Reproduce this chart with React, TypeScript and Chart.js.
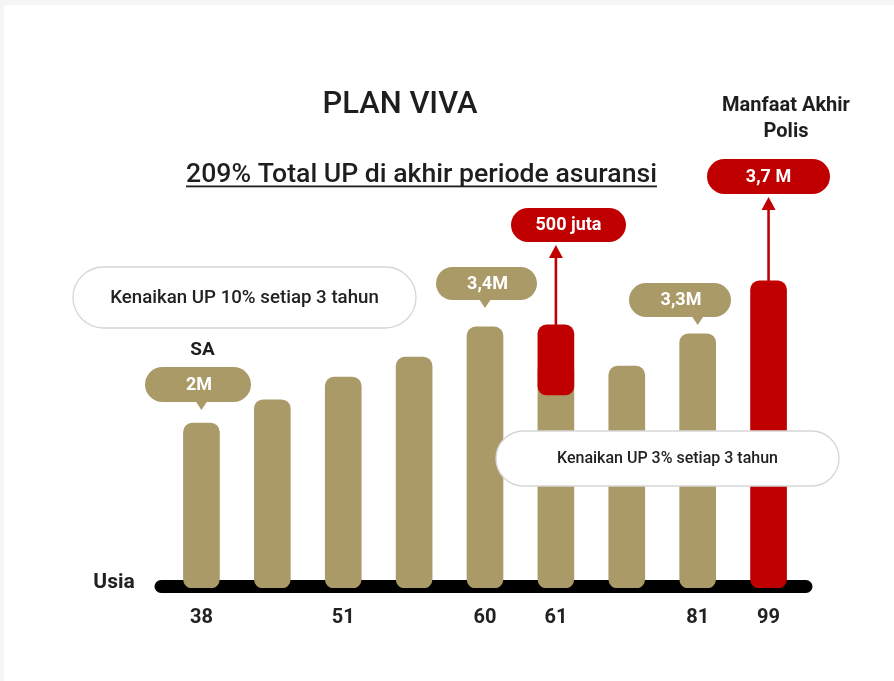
import React, { useEffect, useRef } from 'react';
import { Chart, registerables } from 'chart.js';

Chart.register(...registerables);

// ---- data (values in millions) ----
const AGE_LABELS = ['38', '', '51', '', '60', '61', '', '81', '99'];
const SUM_ASSURED = [2.0, 2.34, 2.67, 2.96, 3.4, 2.9, 2.83, 3.3, null];
const EXTRA_61 = [null, null, null, null, null, [2.41, 3.43], null, null, null];
const END_BENEFIT = [null, null, null, null, null, null, null, null, 4.07];
const AXIS_MIN = -0.4;
const AXIS_MAX = 5;

const GOLD_CALLOUTS = [
  { index: 0, text: '2M' },
  { index: 4, text: '3,4M' },
  { index: 7, text: '3,3M' },
];
const RED_CALLOUTS = [
  { index: 5, text: '500 juta' },
  { index: 8, text: '3,7 M' },
];

const TITLE = 'PLAN VIVA';
const SUBTITLE = '209% Total UP di akhir periode asuransi';
const NOTE_10 = 'Kenaikan UP 10% setiap 3 tahun';
const NOTE_3 = 'Kenaikan UP 3% setiap 3 tahun';
const END_TITLE = ['Manfaat Akhir', 'Polis'];
const START_TITLE = 'SA';
const AXIS_TITLE = 'Usia';

const GOLD = '#AA9A67';
const RED = '#C00000';
const INK = '#1e1e1e';
const FAMILY = 'Roboto, "Noto Sans", sans-serif';

function roundRect(ctx: CanvasRenderingContext2D, x: number, y: number, w: number, h: number, r: number) {
  const rr = Math.min(r, h / 2, w / 2);
  ctx.beginPath();
  ctx.moveTo(x + rr, y);
  ctx.lineTo(x + w - rr, y);
  ctx.arcTo(x + w, y, x + w, y + rr, rr);
  ctx.lineTo(x + w, y + h - rr);
  ctx.arcTo(x + w, y + h, x + w - rr, y + h, rr);
  ctx.lineTo(x + rr, y + h);
  ctx.arcTo(x, y + h, x, y + h - rr, rr);
  ctx.lineTo(x, y + rr);
  ctx.arcTo(x, y, x + rr, y, rr);
  ctx.closePath();
}

function fitFont(ctx: CanvasRenderingContext2D, text: string, weight: number, width: number) {
  ctx.font = `${weight} 20px ${FAMILY}`;
  const w = ctx.measureText(text).width;
  const size = (20 * width) / w;
  return `${weight} ${size.toFixed(2)}px ${FAMILY}`;
}

function text(ctx: CanvasRenderingContext2D, s: string, x: number, y: number, font: string, color: string) {
  ctx.font = font;
  ctx.fillStyle = color;
  ctx.textAlign = 'center';
  ctx.textBaseline = 'middle';
  ctx.fillText(s, x, y);
}

const decorPlugin = {
  id: 'decor',
  beforeDraw(chart: any) {
    const { ctx, width, height } = chart;
    ctx.save();
    ctx.fillStyle = '#f5f5f5';
    ctx.fillRect(0, 0, width, height);
    ctx.fillStyle = '#ffffff';
    ctx.fillRect(4, 5, width - 4, height - 5);
    ctx.restore();
  },
  beforeDatasetsDraw(chart: any) {
    const { ctx, chartArea } = chart;
    ctx.save();
    ctx.strokeStyle = '#000000';
    ctx.lineWidth = 13;
    ctx.lineCap = 'round';
    ctx.beginPath();
    const y = chartArea.bottom - 1.5;
    ctx.moveTo(chartArea.left - 5, y);
    ctx.lineTo(chartArea.right + 2, y);
    ctx.stroke();
    ctx.restore();
  },
  afterDatasetsDraw(chart: any) {
    const { ctx } = chart;
    const xs = chart.scales.x;
    const ys = chart.scales.y;
    const bx = (i: number) => xs.getPixelForValue(i);
    ctx.save();

    // titles
    text(ctx, TITLE, 400, 105, fitFont(ctx, TITLE, 500, 155), INK);
    const subFont = fitFont(ctx, SUBTITLE, 500, 471);
    ctx.font = subFont;
    ctx.fillStyle = INK;
    ctx.textAlign = 'center';
    ctx.textBaseline = 'alphabetic';
    ctx.fillText(SUBTITLE, 421.5, 181.5);
    ctx.fillRect(186, 185.5, 471, 1.8);

    const endFont = fitFont(ctx, END_TITLE[0], 700, 128);
    text(ctx, END_TITLE[0], 786, 106, endFont, INK);
    text(ctx, END_TITLE[1], 786, 132, endFont, INK);

    // white notes
    const note = (s: string, x0: number, y0: number, x1: number, y1: number, tw: number) => {
      roundRect(ctx, x0, y0, x1 - x0, y1 - y0, (y1 - y0) / 2);
      ctx.fillStyle = '#ffffff';
      ctx.fill();
      ctx.strokeStyle = '#d6d6d6';
      ctx.lineWidth = 1.3;
      ctx.stroke();
      text(ctx, s, (x0 + x1) / 2, (y0 + y1) / 2 + 0.5, fitFont(ctx, s, 500, tw), '#222222');
    };
    note(NOTE_10, 73, 267, 416, 328, 269);
    note(NOTE_3, 496, 431, 839, 486, 221);

    // gold callouts
    const goldBoxes: Record<number, number[]> = {
      0: [145, 367, 251, 402],
      4: [436, 267, 537, 300],
      7: [629, 283, 731, 317],
    };
    GOLD_CALLOUTS.forEach(({ index, text: s }) => {
      const [x0, y0, x1, y1] = goldBoxes[index];
      const px = bx(index);
      roundRect(ctx, x0, y0, x1 - x0, y1 - y0, (y1 - y0) / 2);
      ctx.fillStyle = GOLD;
      ctx.fill();
      ctx.beginPath();
      ctx.moveTo(px - 6, y1 - 1);
      ctx.lineTo(px + 6, y1 - 1);
      ctx.lineTo(px, y1 + 8);
      ctx.closePath();
      ctx.fill();
      text(ctx, s, (x0 + x1) / 2 + 1, (y0 + y1) / 2 + 0.5, `700 18px ${FAMILY}`, '#ffffff');
    });

    // red callouts with arrows
    const redBoxes: Record<number, number[]> = {
      5: [511, 208, 626, 242],
      8: [707, 159, 830, 194],
    };
    RED_CALLOUTS.forEach(({ index, text: s }) => {
      const [x0, y0, x1, y1] = redBoxes[index];
      const px = bx(index);
      const top = index === 5 ? ys.getPixelForValue((EXTRA_61[5] as number[])[1]) : ys.getPixelForValue(END_BENEFIT[8] as number);
      ctx.strokeStyle = RED;
      ctx.fillStyle = RED;
      ctx.lineWidth = 2.6;
      ctx.beginPath();
      ctx.moveTo(px, top + 2);
      ctx.lineTo(px, y1 + 12);
      ctx.stroke();
      ctx.beginPath();
      ctx.moveTo(px - 7, y1 + 16);
      ctx.lineTo(px + 7, y1 + 16);
      ctx.lineTo(px, y1 + 3);
      ctx.closePath();
      ctx.fill();
      roundRect(ctx, x0, y0, x1 - x0, y1 - y0, (y1 - y0) / 2);
      ctx.fill();
      text(ctx, s, (x0 + x1) / 2, (y0 + y1) / 2 + 0.5, `700 18px ${FAMILY}`, '#ffffff');
    });

    // labels
    text(ctx, START_TITLE, bx(0) + 1, 350, `700 19px ${FAMILY}`, INK);
    text(ctx, AXIS_TITLE, 114, 583, `700 21px ${FAMILY}`, '#222222');
    ctx.restore();
  },
};

export default function App() {
  const ref = useRef<HTMLCanvasElement | null>(null);
  useEffect(() => {
    if (!ref.current) return;
    const chart = new Chart(ref.current, {
      type: 'bar',
      data: {
        labels: AGE_LABELS,
        datasets: [
          {
            label: 'Manfaat Akhir Polis',
            data: END_BENEFIT as any,
            backgroundColor: RED,
            base: AXIS_MIN,
            grouped: false,
            order: 0,
            barThickness: 36,
            borderRadius: 9,
            borderSkipped: false,
          } as any,
          {
            label: '500 juta',
            data: EXTRA_61 as any,
            backgroundColor: RED,
            grouped: false,
            order: 1,
            barThickness: 36,
            borderRadius: 9,
            borderSkipped: false,
          } as any,
          {
            label: 'UP',
            data: SUM_ASSURED as any,
            backgroundColor: GOLD,
            base: AXIS_MIN,
            grouped: false,
            order: 2,
            barThickness: 36,
            borderRadius: 9,
            borderSkipped: false,
          } as any,
        ],
      },
      options: {
        responsive: false,
        animation: false,
        layout: { padding: { left: 166, right: 90, top: 217, bottom: 33 } },
        plugins: { legend: { display: false }, tooltip: { enabled: false }, title: { display: false } },
        scales: {
          x: {
            display: true,
            offset: true,
            grid: { display: false, drawTicks: false },
            border: { display: false },
            ticks: {
              autoSkip: false,
              maxRotation: 0,
              padding: 18,
              color: '#222222',
              font: { family: FAMILY, size: 20, weight: 'bold' },
            },
          },
          y: { display: false, min: AXIS_MIN, max: AXIS_MAX },
        },
      },
      plugins: [decorPlugin],
    });
    return () => chart.destroy();
  }, []);
  return (
    <div style={{ position: 'fixed', left: 0, top: 0, width: 894, height: 681 }}>
      <canvas ref={ref} width={894} height={681} style={{ display: 'block' }} />
    </div>
  );
}
